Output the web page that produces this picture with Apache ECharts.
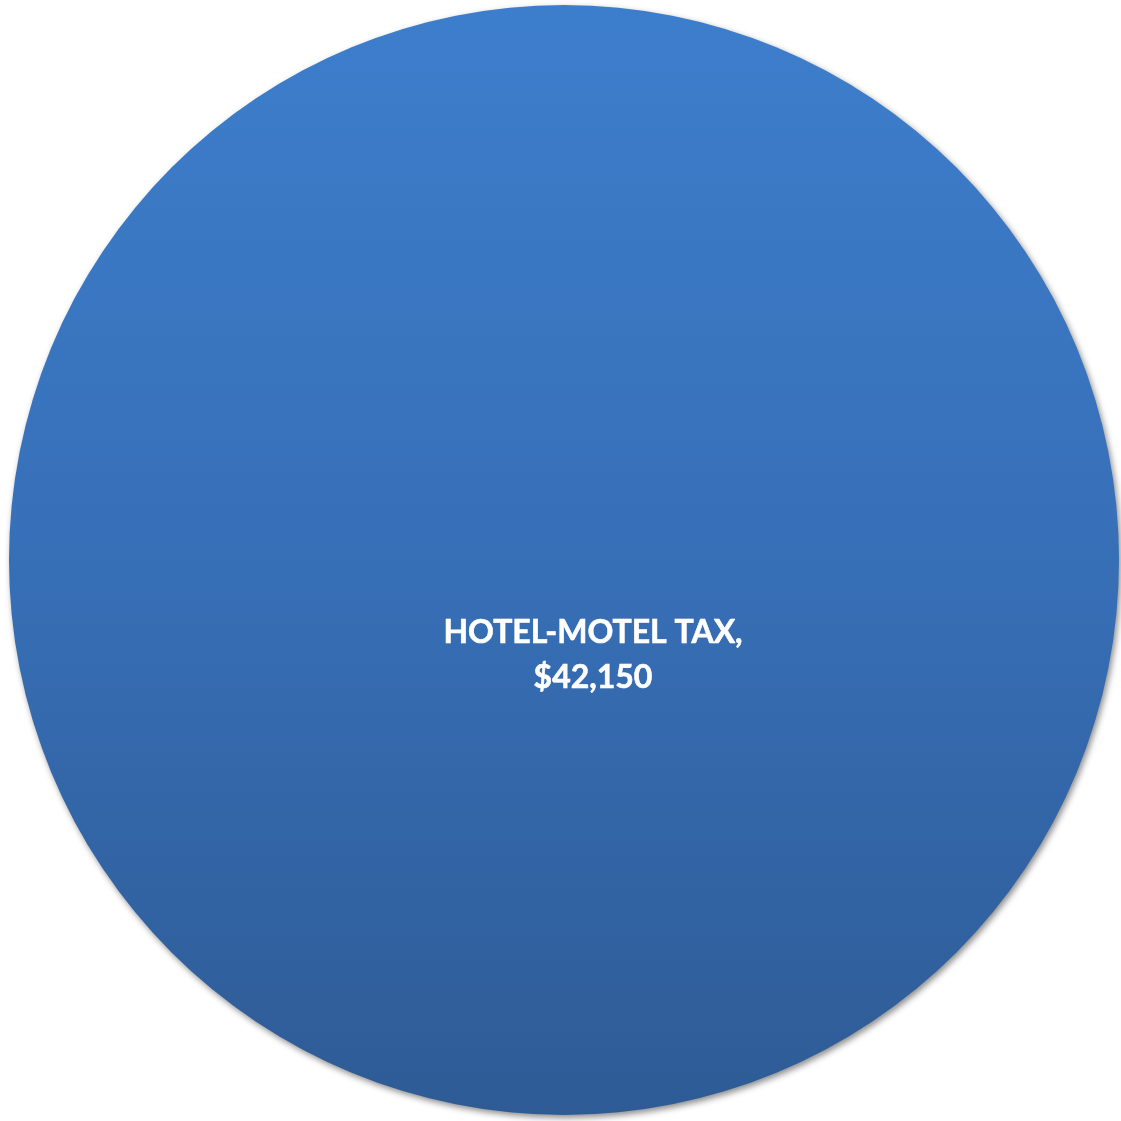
<!DOCTYPE html>
<html>
<head>
<meta charset="utf-8">
<style>
  html, body { margin: 0; padding: 0; background: #ffffff; }
  #chart { width: 1121px; height: 1121px; }
</style>
<script src="https://cdn.jsdelivr.net/npm/echarts@6/dist/echarts.min.js"></script>
</head>
<body>
<div id="chart"></div>
<script>
// Revenue sources and amounts
const categories = ['HOTEL-MOTEL TAX'];
const amounts = [42150];

const chart = echarts.init(document.getElementById('chart'), null, { renderer: 'canvas' });

const fmt = v => '$' + v.toLocaleString('en-US');

chart.setOption({
  animation: false,
  backgroundColor: '#ffffff',
  series: [{
    type: 'pie',
    center: [564, 560],
    radius: [0, 555],
    startAngle: 90,
    clockwise: true,
    silent: true,
    data: categories.map((name, i) => ({ name, value: amounts[i] })),
    itemStyle: {
      color: new echarts.graphic.LinearGradient(0, 0, 0, 1, [
        { offset: 0, color: '#3d7ecc' },
        { offset: 0.5, color: '#376fb7' },
        { offset: 1, color: '#2e5b95' }
      ]),
      borderWidth: 0,
      shadowColor: 'rgba(0,0,0,0.45)',
      shadowBlur: 6,
      shadowOffsetX: 2,
      shadowOffsetY: 3
    },
    label: {
      show: true,
      position: 'center',
      offset: [29, 95],
      formatter: p => p.name + ',\n' + fmt(p.value),
      color: '#ffffff',
      fontFamily: 'Lato',
      fontWeight: 'bold',
      fontSize: 32,
      lineHeight: 45,
      align: 'center',
      textBorderColor: '#ffffff',
      textBorderWidth: 0.6
    },
    labelLine: { show: false }
  }]
});
</script>
</body>
</html>
